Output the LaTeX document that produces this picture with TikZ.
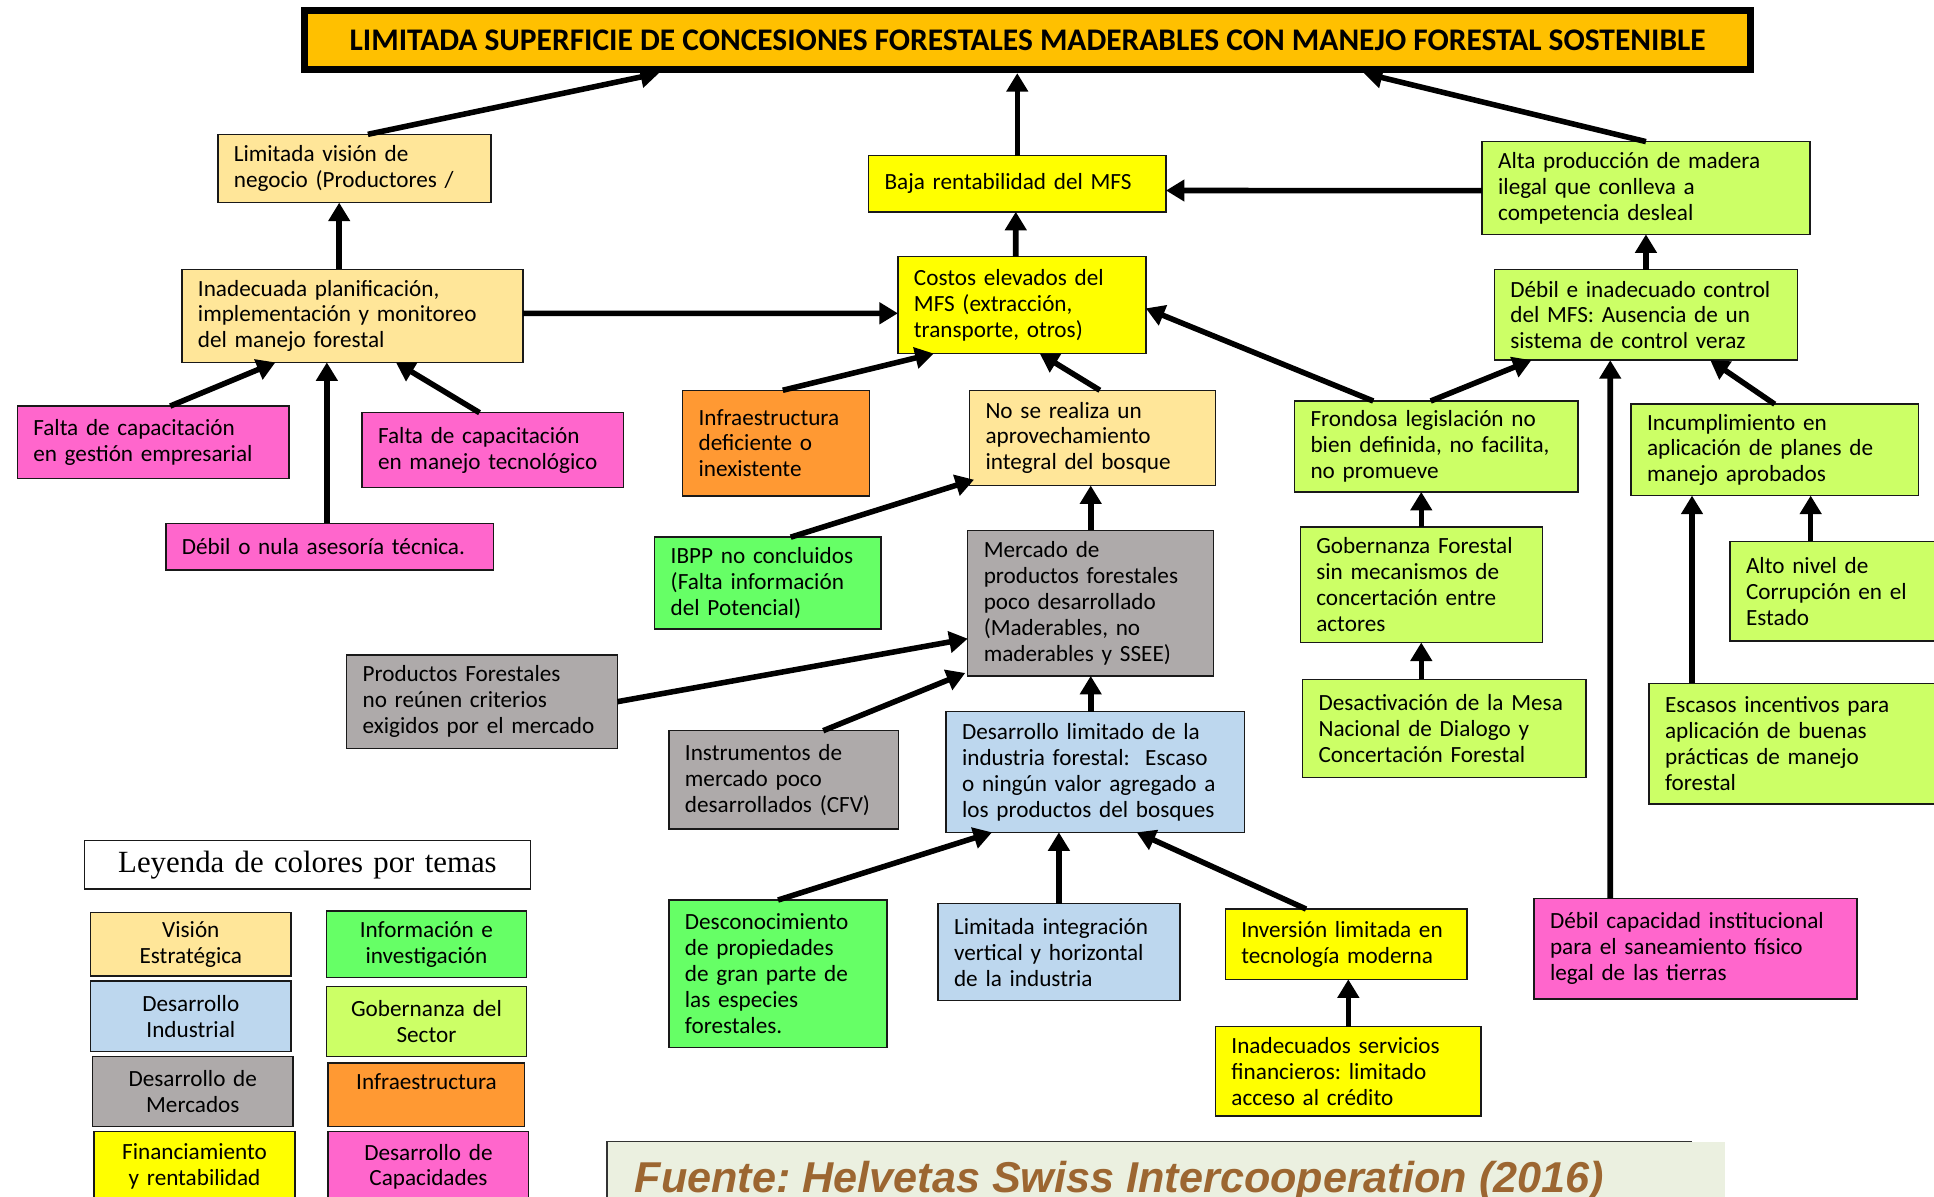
\documentclass[tikz,border=0pt]{standalone}
\usepackage{fontspec}
\setmainfont{Carlito}
\newfontfamily\leyendafont{Liberation Serif}
\newfontfamily\fuentefont{Liberation Sans}
\usetikzlibrary{arrows.meta}
\frenchspacing

\definecolor{titulo}{HTML}{FFC000}
\definecolor{vision}{HTML}{FFE699}
\definecolor{industria}{HTML}{BDD7EE}
\definecolor{mercados}{HTML}{AEAAAA}
\definecolor{finanzas}{HTML}{FFFF00}
\definecolor{informacion}{HTML}{66FF66}
\definecolor{gobernanza}{HTML}{CCFF66}
\definecolor{infraestr}{HTML}{FF9933}
\definecolor{capacidades}{HTML}{FF66CC}
\definecolor{fuentebg}{HTML}{EBF0E0}
\definecolor{fuentetx}{HTML}{9C6631}

\begin{document}
\begin{tikzpicture}
  [x=1pt, y=-1pt,
   box/.style={draw=black!90, line width=1.2pt, outer sep=0pt, anchor=north west,
               inner xsep=13pt, inner ysep=1pt, align=left,
               font=\fontsize{18.8}{21}\selectfont},
   sz/.style 2 args={minimum width=#1pt, minimum height=#2pt, text width=#1pt-26pt},
   key/.style={box, align=center},
   tvis/.style={box, fill=vision},
   tind/.style={box, fill=industria},
   tmer/.style={box, fill=mercados},
   tfin/.style={box, fill=finanzas},
   tinfo/.style={box, fill=informacion},
   tgob/.style={box, fill=gobernanza},
   tinf/.style={box, fill=infraestr},
   tcap/.style={box, fill=capacidades},
   arr/.style={line width=4.5pt, -{Triangle[width=17pt, length=15pt]}}]
  \useasboundingbox (0,0) rectangle (1568,970);
  \fill[white] (0,0) rectangle (1568,970);
  \clip (0,0) rectangle (1568,970);

  % problema central
  \node[draw=black, line width=5.4pt, fill=titulo, anchor=north west, inner sep=0pt,
        minimum width=1172pt, minimum height=48pt,
        font=\fontsize{25.5}{28}\selectfont\bfseries] (title) at (244.4,5.9)
    {LIMITADA SUPERFICIE DE CONCESIONES FORESTALES MADERABLES CON MANEJO FORESTAL SOSTENIBLE};

  % causas
  \node[tvis, sz={221.3}{55.4}] (limvis) at (176.6,108.9) {Limitada visión de\\negocio (Productores /};
  \node[tfin, sz={241.1}{45.5}] (baja) at (704.2,126.2) {Baja rentabilidad del MFS};
  \node[tgob, sz={265.7}{75.2}] (alta) at (1201.6,114.8) {Alta producción de madera\\ilegal que conlleva a\\competencia desleal};
  \node[tvis, sz={276.5}{75.4}] (inadec) at (147.5,218.4) {Inadecuada planificación,\\implementación y monitoreo\\del manejo forestal};
  \node[tfin, sz={201}{78.6}] (costos) at (728,208) {Costos elevados del\\MFS (extracción,\\transporte, otros)};
  \node[tgob, sz={245.9}{73.3}] (control) at (1211.5,218.7) {Débil e inadecuado control\\del MFS: Ausencia de un\\sistema de control veraz};
  \node[tcap, sz={220.3}{58.6}] (gestion) at (14,329.2) {Falta de capacitación\\en gestión empresarial};
  \node[tcap, sz={212.2}{60.5}] (tecno) at (293.5,334.6) {Falta de capacitación\\en manejo tecnológico};
  \node[tinf, sz={151.5}{85.6}] (infra) at (553.4,316.4) {Infraestructura\\deficiente o\\inexistente};
  \node[tvis, sz={199.4}{77.2}] (nose) at (786,316.4) {No se realiza un\\aprovechamiento\\integral del bosque};
  \node[tgob, sz={229.7}{73.7}] (frond) at (1049.5,325.1) {Frondosa legislación no\\bien definida, no facilita,\\no promueve};
  \node[tgob, sz={233.1}{74.1}] (incump) at (1322.3,327.7) {Incumplimiento en\\aplicación de planes de\\manejo aprobados};
  \node[tcap, sz={265.4}{37.8}] (asesor) at (134.5,424.3) {Débil o nula asesoría técnica.};
  \node[tinfo, sz={183.5}{74.5}] (ibpp) at (530.8,435.5) {IBPP no concluidos\\(Falta información\\del Potencial)};
  \node[tmer, sz={199.4}{118}] (mercado) at (784.6,430) {Mercado de\\productos forestales\\poco desarrollado\\(Maderables, no\\maderables y SSEE)};
  \node[tgob, sz={196.2}{93.8}] (gobfor) at (1054.2,427.1) {Gobernanza Forestal\\sin mecanismos de\\concertación entre\\actores};
  \node[tgob, sz={175}{80.8}] (corrup) at (1402.6,439) {Alto nivel de\\Corrupción en el\\Estado};
  \node[tmer, sz={219.7}{75.7}] (prodfor) at (281,531) {Productos Forestales\\no reúnen criterios\\exigidos por el mercado};
  \node[tmer, sz={186.2}{79.7}] (instr) at (542.3,592.4) {Instrumentos de\\mercado poco\\desarrollados (CFV)};
  \node[tind, sz={242}{97.8}] (desind) at (767,577) {Desarrollo limitado de la\\industria forestal:~ Escaso\\o ningún valor agregado a\\los productos del bosques};
  \node[tgob, sz={230}{79.7}] (mesa) at (1056,550.7) {Desactivación de la Mesa\\Nacional de Dialogo y\\Concertación Forestal};
  \node[tgob, sz={240}{98}] (incent) at (1337,554) {Escasos incentivos para\\aplicación de buenas\\prácticas de manejo\\forestal};
  \node[tinfo, sz={176.9}{119.7}] (descon) at (542.3,729.7) {Desconocimiento\\de propiedades\\de gran parte de\\las especies\\forestales.};
  \node[tind, sz={196}{78.6}] (integ) at (760.5,732.7) {Limitada integración\\vertical y horizontal\\de la industria};
  \node[tfin, sz={195.8}{57}] (invers) at (993.4,737) {Inversión limitada en\\tecnología moderna};
  \node[tcap, sz={261.8}{81.7}] (saneam) at (1243.7,728.3) {Débil capacidad institucional\\para el saneamiento físico\\legal de las tierras};
  \node[tfin, sz={215.5}{72.4}] (finan) at (985.4,832.4) {Inadecuados servicios\\financieros: limitado\\acceso al crédito};

  % leyenda
  \node[box, fill=white, sz={361.9}{39.2}, align=center,
        font=\leyendafont\fontsize{25}{28}\selectfont] (leyenda) at (68.3,681.6) {Leyenda de colores por temas};
  \node[tvis, key, sz={162.6}{51.3}] (kvis) at (73.4,740) {Visión\\Estratégica};
  \node[tinfo, key, sz={162.5}{54.3}] (kinfo) at (264.5,738.4) {Información e\\investigación};
  \node[tind, key, sz={162.6}{57}] (kind) at (73.4,795.4) {Desarrollo\\Industrial};
  \node[tgob, key, sz={162.5}{57}] (kgob) at (264.5,799.7) {Gobernanza del\\Sector};
  \node[tmer, key, sz={162.6}{57.1}] (kmer) at (75,856.4) {Desarrollo de\\Mercados};
  \node[tinf, key, sz={159.3}{51.5}] (kinf) at (266.1,862) {Infraestructura\\\mbox{}};
  \node[tfin, key, sz={162.9}{57}] (kfin) at (76.3,917.5) {Financiamiento\\y rentabilidad};
  \node[tcap, key, sz={162.5}{57}] (kcap) at (266.1,917.5) {Desarrollo de\\Capacidades};

  % fuente
  \node[fill=fuentebg, anchor=north west, inner sep=0pt, outer sep=0pt,
        minimum width=906.7pt, minimum height=60pt] (fuente) at (492,925.6) {};
  \draw[line width=1.2pt, black!80] (fuente.south west) -- (fuente.north west)
    -- ([xshift=-27.3pt]fuente.north east);
  \node[anchor=base west, inner sep=0pt, text=fuentetx,
        font=\fuentefont\bfseries\itshape\fontsize{35}{40}\selectfont] (fuentetxt) at (514.4,967)
    {Fuente: Helvetas Swiss Intercooperation (2016)};

  % flechas hacia el problema
  \draw[arr] ([xshift=11pt]limvis.north) -- ([xshift=-298.8pt]title.south);
  \draw[arr] (baja.north) -- (baja.north |- title.south);
  \draw[arr] (alta.north) -- ([xshift=272.6pt]title.south);
  \draw[arr] ([yshift=-2.1pt]alta.west) -- ([yshift=-5.5pt]baja.east);
  \draw[arr] ([xshift=-5pt]costos.north) -- ([xshift=-1.2pt]baja.south);
  \draw[arr] (control.north) -- (alta.south);
  \draw[arr] ([xshift=-10.75pt]inadec.north) -- ([xshift=-12.25pt]limvis.south);
  % costos
  \draw[arr] ([yshift=2.1pt]inadec.east) -- ([yshift=-6.7pt]costos.west);
  \draw[arr] ([xshift=5.5pt]infra.north) -- ([xshift=-71.5pt]costos.south);
  \draw[arr] ([xshift=6pt]nose.north) -- ([xshift=14.5pt]costos.south);
  \draw[arr] ([xshift=-51pt]frond.north) -- ([yshift=-2.7pt]costos.east);
  % control
  \draw[arr] ([xshift=-4.4pt]frond.north) -- ([xshift=-92.85pt]control.south);
  \draw[arr] ([xshift=-69.1pt]saneam.north) -- ([xshift=-28.95pt]control.south);
  \draw[arr] (incump.north) -- ([xshift=52.15pt]control.south);
  \draw[arr] (gobfor.north) -- (gobfor.north |- frond.south);
  \draw[arr] (gobfor.south |- mesa.north) -- (gobfor.south);
  \draw[arr] ([xshift=-85.2pt]incent.north) -- ([xshift=-67.05pt]incump.south);
  \draw[arr] ([xshift=-22.1pt]corrup.north) -- ([xshift=29.15pt]incump.south);
  % mercado y aprovechamiento
  \draw[arr] (mercado.north) -- (mercado.north |- nose.south);
  \draw[arr] ([xshift=18.5pt]ibpp.north) -- ([xshift=3.7pt, yshift=4.7pt]nose.south west);
  \draw[arr] (prodfor.east) -- ([yshift=-28.8pt]mercado.west);
  \draw[arr] ([xshift=32pt]instr.north) -- ([xshift=-2pt, yshift=2.4pt]mercado.south west);
  \draw[arr] (mercado.south |- desind.north) -- (mercado.south);
  % industria
  \draw[arr] (descon.north) -- ([xshift=-83.7pt]desind.south);
  \draw[arr] (integ.north) -- (integ.north |- desind.south);
  \draw[arr] ([xshift=-32.4pt]invers.north) -- ([xshift=33.6pt]desind.south);
  \draw[arr] (finan.north) -- (finan.north |- invers.south);
  % planificacion
  \draw[arr] ([xshift=13.85pt]gestion.north) -- ([xshift=-62.45pt]inadec.south);
  \draw[arr] ([xshift=-2.2pt]asesor.north) -- ([xshift=-20.75pt]inadec.south);
  \draw[arr] ([xshift=-10.8pt]tecno.north) -- ([xshift=35.25pt]inadec.south);
\end{tikzpicture}
\end{document}
